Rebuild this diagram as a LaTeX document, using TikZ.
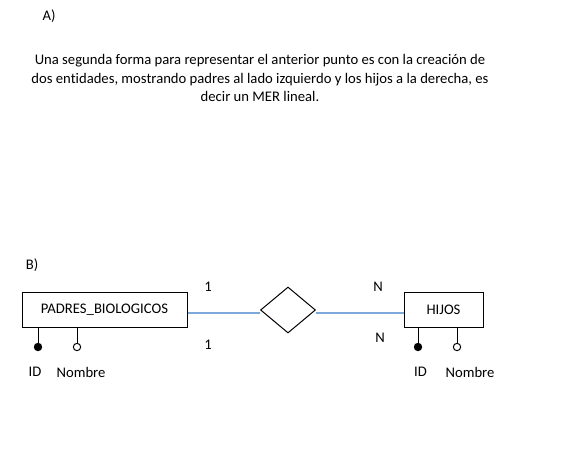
\documentclass[tikz,border=0pt]{standalone}
\usepackage{fontspec}
\setmainfont[Ligatures=NoCommon]{Carlito}
\usetikzlibrary{positioning,shapes.geometric}
\definecolor{LineaAzul}{HTML}{7DA8DA}
\tikzset{
  texto/.style    = {font=\fontsize{11}{13.9}\selectfont, inner sep=0pt},
  entidad/.style  = {draw, line width=0.75pt, font=\fontsize{11}{13.9}\selectfont,
                     minimum height=26.25pt, inner sep=0pt},
  relacion/.style = {draw, diamond, line width=0.75pt, inner sep=0pt,
                     minimum width=41.25pt, minimum height=34.5pt},
  clave/.style    = {circle, fill=black, draw, line width=0.75pt,
                     minimum size=5.5pt, inner sep=0pt},
  atributo/.style = {circle, fill=white, draw, line width=0.75pt,
                     minimum size=5.5pt, inner sep=0pt},
  tallo/.style    = {line width=0.75pt},
  enlace/.style   = {draw=LineaAzul, line width=0.8pt},
}

\begin{document}
\begin{tikzpicture}[x=0.75pt,y=-0.75pt]
  \useasboundingbox (0,0) rectangle (574,450);
  % parte A
  \node[texto] (tituloA) at (49,16) {A)};
  \node[texto, align=center] (parrafo) at (260,78)
    {Una segunda forma para representar el anterior punto es con la creación de\\
     dos entidades, mostrando padres al lado izquierdo y los hijos a la derecha, es\\
     decir un MER lineal.};
  % parte B
  \node[texto] (tituloB) at (32,265) {B)};
  \node[entidad, minimum width=123.75pt] (padres) at (104.5,309.5) {PADRES\_BIOLOGICOS};
  \node[relacion] (rel) at (288,310) {};
  \node[entidad, minimum width=59.25pt] (hijos) at (443.5,309.5) {HIJOS};
  \draw[enlace] (padres.east |- 0,313) -- (rel.west |- 0,313);
  \draw[enlace] (rel.east |- 0,313) -- (hijos.west |- 0,313);
  % cardinalidades
  \node[texto] (card1a) at (208,287) {1};
  \node[texto] (card1b) at (208,345) {1};
  \node[texto] (cardNa) at (378,287) {N};
  \node[texto] (cardNb) at (380,338) {N};
  % atributos
  \node[clave] (idP) at (38,347) {};
  \node[atributo] (nomP) at (77,347) {};
  \node[clave] (idH) at (418,347) {};
  \node[atributo] (nomH) at (457,347) {};
  \draw[tallo] (idP) -- (idP |- padres.south);
  \draw[tallo] (nomP) -- (nomP |- padres.south);
  \draw[tallo] (idH) -- (idH |- hijos.south);
  \draw[tallo] (nomH) -- (nomH |- hijos.south);
  \node[texto] (lblIdP) at (35,372) {ID};
  \node[texto] (lblNomP) at (81,372) {Nombre};
  \node[texto] (lblIdH) at (420.5,372) {ID};
  \node[texto] (lblNomH) at (470,372) {Nombre};
\end{tikzpicture}
\end{document}
